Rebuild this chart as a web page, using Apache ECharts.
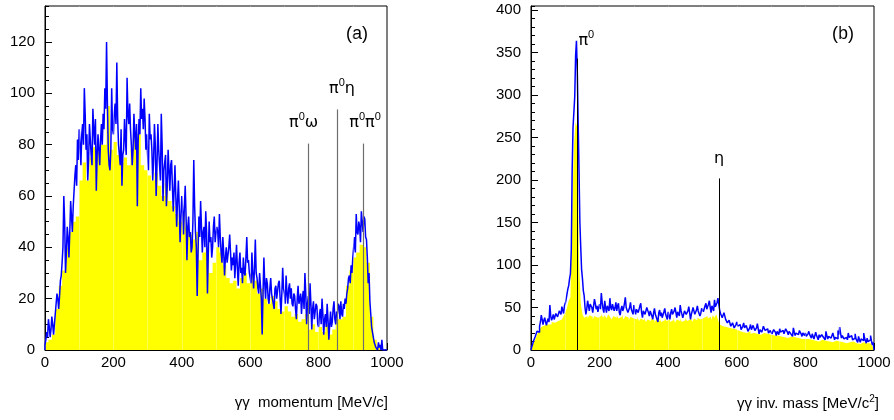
<!DOCTYPE html>
<html>
<head>
<meta charset="utf-8">
<script src="https://cdn.jsdelivr.net/npm/echarts@6/dist/echarts.min.js"></script>
<style>
  html, body { margin: 0; padding: 0; background: #fff; }
  #chart { width: 894px; height: 420px; }
</style>
</head>
<body>
<div id="chart"></div>
<script>
// ---- (a) gamma-gamma momentum, 2.5 MeV/c bins (all candidates) ----
const momBinWidth = 2.5;
const momAll = [
  2, 4, 7, 5, 12, 9, 5, 8, 13, 10, 6, 10, 14, 18, 22, 20, 16, 21, 27, 29,
  34, 40, 60, 50, 30, 38, 48, 44, 36, 46, 58, 52, 46, 56, 62, 68, 72, 64, 82, 74,
  86, 80, 72, 84, 88, 80, 102, 92, 78, 84, 66, 74, 88, 82, 76, 72, 94, 86, 80, 90,
  62, 76, 84, 78, 72, 82, 88, 80, 92, 86, 102, 94, 120, 96, 78, 72, 70, 78, 102, 86,
  84, 92, 96, 88, 112, 90, 80, 76, 72, 86, 64, 76, 78, 90, 82, 76, 106, 92, 88, 96,
  86, 80, 72, 78, 92, 84, 78, 88, 56, 82, 90, 84, 102, 90, 94, 86, 98, 90, 78, 84,
  76, 70, 92, 82, 84, 78, 66, 74, 88, 80, 60, 72, 88, 78, 72, 66, 92, 80, 58, 70,
  70, 76, 56, 64, 78, 70, 62, 72, 74, 64, 54, 62, 72, 60, 48, 58, 66, 56, 42, 52,
  60, 54, 45, 56, 64, 52, 35, 48, 52, 44, 46, 38, 40, 50, 74, 56, 46, 40, 21, 38,
  52, 44, 58, 48, 38, 46, 48, 40, 54, 46, 22, 38, 50, 42, 44, 36, 40, 48, 52, 42,
  42, 48, 46, 40, 53, 44, 38, 34, 44, 38, 29, 36, 40, 34, 34, 40, 45, 38, 31, 36,
  33, 38, 28, 34, 41, 32, 25, 34, 38, 30, 32, 26, 36, 30, 29, 36, 44, 34, 35, 30,
  30, 26, 38, 30, 24, 32, 43, 30, 28, 24, 22, 30, 30, 20, 6, 22, 36, 26, 20, 28,
  26, 20, 18, 24, 28, 22, 22, 18, 16, 24, 25, 20, 20, 26, 27, 20, 14, 22, 32, 24,
  22, 18, 29, 22, 18, 24, 26, 20, 24, 18, 17, 22, 21, 16, 12, 20, 25, 18, 18, 22,
  14, 20, 23, 16, 30, 22, 10, 18, 21, 14, 26, 18, 8, 16, 19, 12, 12, 18, 17, 10,
  9, 14, 16, 10, 20, 14, 6, 12, 14, 9, 18, 12, 4, 10, 15, 9, 11, 16, 19, 12,
  10, 15, 14, 18, 17, 12, 19, 14, 13, 18, 16, 20, 18, 22, 24, 28, 29, 26, 33, 30,
  36, 40, 44, 38, 53, 46, 45, 50, 48, 42, 54, 50, 46, 52, 51, 44, 43, 36, 26, 30,
  19, 14, 9, 7, 5, 3, 2, 1, 1, 0, 3, 1, 2, 0, 4, 0, 0, 0, 0, 0
];
// selected subset, 10 MeV/c bins
const momSelBinWidth = 10;
const momSel = [
  3, 4, 6, 16, 25, 31, 40, 46, 50, 52,
  66, 73, 66, 75, 79, 77, 80, 80, 95, 78,
  81, 76, 73, 75, 72, 78, 83, 84, 72, 70,
  68, 66, 69, 64, 60, 65, 58, 56, 53, 50,
  54, 48, 45, 43, 46, 35, 38, 40, 30, 34,
  40, 38, 33, 28, 26, 27, 24, 28, 30, 26,
  30, 27, 22, 24, 20, 18, 21, 19, 16, 15,
  17, 15, 13, 14, 11, 12, 14, 8, 10, 7,
  9, 7, 10, 6, 8, 12, 12, 13, 25, 31,
  36, 38, 41, 40, 34, 13, 4, 1, 0, 0
];
// expected two-body momenta: label, momentum, line height
const momMarkers = [
  { name: 'π|ω', p: 771, h: 80.4 },
  { name: 'π|η', p: 854, h: 93.7 },
  { name: 'π|π', p: 930, h: 80.4 }
];

// ---- (b) gamma-gamma invariant mass, 2.5 MeV/c^2 bins ----
const massBinWidth = 2.5;
const massAll = [
  1, 4, 7, 11, 12, 16, 18, 22, 24, 21, 28, 33, 41, 36, 30, 35, 38, 33, 29, 34,
  37, 33, 53, 40, 35, 38, 42, 36, 38, 43, 44, 39, 40, 46, 48, 42, 51, 47, 43, 52,
  55, 60, 66, 72, 76, 84, 90, 118, 212, 262, 280, 298, 346, 364, 327, 268, 210, 150, 121, 95,
  84, 70, 64, 50, 42, 48, 58, 52, 46, 54, 56, 50, 44, 52, 60, 55, 48, 52, 45, 50,
  54, 48, 67, 56, 48, 44, 58, 50, 44, 52, 52, 46, 61, 50, 47, 54, 55, 46, 50, 56,
  46, 52, 55, 44, 41, 48, 52, 46, 49, 55, 62, 50, 50, 44, 44, 50, 56, 48, 47, 42,
  53, 46, 42, 48, 50, 44, 45, 52, 55, 44, 38, 46, 48, 42, 43, 50, 51, 44, 40, 46,
  46, 40, 36, 44, 49, 42, 42, 36, 33, 44, 47, 40, 44, 38, 38, 45, 49, 42, 41, 36,
  45, 40, 36, 44, 48, 42, 40, 46, 50, 44, 38, 45, 46, 40, 53, 46, 42, 38, 39, 46,
  47, 42, 40, 46, 51, 44, 36, 42, 44, 50, 49, 42, 41, 47, 52, 46, 45, 40, 43, 49,
  50, 45, 46, 52, 55, 48, 48, 54, 58, 50, 44, 52, 52, 46, 59, 51, 50, 56, 61, 54,
  47, 43, 42, 38, 38, 44, 44, 36, 36, 32, 30, 35, 34, 28, 27, 32, 31, 26, 24, 30,
  33, 28, 26, 30, 29, 24, 22, 28, 32, 26, 24, 29, 28, 22, 20, 26, 30, 24, 25, 29,
  27, 23, 22, 26, 31, 25, 19, 24, 26, 21, 24, 28, 29, 23, 21, 25, 25, 20, 18, 23,
  23, 19, 20, 24, 26, 21, 17, 22, 22, 18, 25, 21, 19, 23, 24, 19, 21, 25, 27, 21,
  18, 22, 23, 19, 20, 16, 26, 21, 17, 20, 22, 18, 19, 23, 24, 19, 16, 20, 21, 17,
  20, 16, 15, 19, 22, 18, 17, 14, 19, 16, 13, 17, 21, 17, 16, 12, 18, 15, 14, 18,
  19, 15, 15, 12, 22, 17, 13, 16, 18, 14, 16, 12, 20, 16, 12, 15, 17, 13, 23, 18,
  27, 20, 14, 17, 18, 13, 11, 15, 16, 12, 20, 15, 13, 17, 17, 12, 10, 14, 19, 13,
  12, 9, 16, 12, 9, 13, 15, 11, 20, 14, 11, 8, 14, 10, 8, 12, 17, 11, 6, 9
];
// selected subset, 5 MeV/c^2 bins
const massSelBinWidth = 5;
const massSel = [
  2, 6, 10, 15, 20, 24, 27, 29, 28, 30,
  31, 30, 33, 32, 31, 34, 33, 36, 38, 40,
  44, 50, 58, 62, 160, 240, 268, 262, 105, 55,
  42, 38, 40, 37, 41, 39, 36, 40, 38, 37,
  40, 43, 38, 41, 37, 42, 39, 36, 40, 38,
  41, 37, 39, 42, 36, 40, 38, 35, 39, 37,
  38, 36, 39, 34, 37, 35, 38, 33, 36, 34,
  37, 35, 32, 36, 34, 37, 33, 35, 38, 34,
  36, 33, 35, 38, 32, 36, 34, 37, 33, 35,
  38, 34, 36, 39, 33, 37, 35, 38, 36, 34,
  38, 36, 40, 37, 39, 35, 41, 38, 42, 36,
  30, 28, 26, 27, 25, 26, 24, 25, 23, 24,
  24, 22, 23, 21, 22, 20, 21, 22, 19, 20,
  21, 19, 20, 18, 19, 20, 18, 19, 17, 18,
  18, 17, 16, 17, 15, 16, 17, 15, 16, 14,
  15, 16, 14, 15, 13, 14, 15, 13, 14, 13,
  12, 13, 11, 12, 13, 11, 12, 10, 11, 12,
  10, 11, 12, 10, 11, 9, 10, 11, 9, 10,
  10, 9, 11, 8, 10, 9, 8, 10, 9, 8,
  9, 7, 8, 9, 7, 8, 6, 8, 7, 5
];
const massMarkers = [
  { name: 'π|', m: 135, h: 343 },
  { name: 'η', m: 548, h: 202 }
];

// axis ranges
const xRange = [0, 1000];
const xStep = 200;
const xGuides = [100, 200, 300, 400, 500, 600, 700, 800, 900];
const momYMax = 134, momYStep = 20, momYMinor = 5;
const massYMax = 405, massYStep = 50, massYMinor = 10;

// histogram contents -> step polyline closed down to the axis at both ends
function histSteps(values, width) {
  const pts = [[0, 0]];
  values.forEach((v, i) => pts.push([i * width, v]));
  const end = values.length * width;
  pts.push([end, values[values.length - 1]]);
  pts.push([end, 0]);
  return pts;
}

const FONT = 'Liberation Sans, Arial, sans-serif';
const GREEK = 'DejaVu Sans, sans-serif';

function xAxisFor(gi) {
  return {
    type: 'value', gridIndex: gi, min: xRange[0], max: xRange[1], interval: xStep,
    axisLine: { show: true, onZero: false, lineStyle: { color: '#000', width: 1 } },
    axisTick: { show: true, inside: true, length: 7, lineStyle: { color: '#000', width: 1 } },
    minorTick: { show: true, splitNumber: 4, length: 3.5, lineStyle: { color: '#000', width: 1 } },
    splitLine: { show: false },
    axisLabel: { color: '#000', fontSize: 15, fontFamily: FONT, margin: 5, formatter: v => String(v) }
  };
}
function yAxisMain(gi, max, step) {
  return {
    type: 'value', gridIndex: gi, min: 0, max: max, interval: step,
    axisLine: { show: true, lineStyle: { color: '#000', width: 1 } },
    axisTick: { show: true, inside: true, length: 7, lineStyle: { color: '#000', width: 1 } },
    splitLine: { show: false },
    axisLabel: { color: '#000', fontSize: 15, fontFamily: FONT, margin: 10, showMaxLabel: false }
  };
}
function yAxisMinor(gi, max, step) {
  return {
    type: 'value', gridIndex: gi, min: 0, max: max, interval: step, position: 'left',
    axisLine: { show: false },
    axisTick: { show: true, inside: true, length: 4, lineStyle: { color: '#000', width: 1 } },
    splitLine: { show: false },
    axisLabel: { show: false }
  };
}

const greekRich = {
  g: { fontSize: 16, fontFamily: GREEK, color: '#000', lineHeight: 19, verticalAlign: 'bottom' },
  s: { fontSize: 11, fontFamily: FONT, color: '#000', lineHeight: 19, verticalAlign: 'top' }
};
function greekLabel(name) {
  // 'π|ω' -> π⁰ω ; 'π|π' -> π⁰π⁰ ; 'π|' -> π⁰ ; 'η' -> η
  const [a, b] = name.split('|');
  if (b === undefined) return '{g|' + a + '}';
  if (b === 'π') return '{g|π}{s|0}{g|π}{s|0}';
  return '{g|' + a + '}{s|0}' + (b ? '{g|' + b + '}' : '');
}

function markerLines(list, key, color, width, labelOpts) {
  return {
    silent: true, symbol: 'none', animation: false,
    lineStyle: { color: color, width: width, type: 'solid' },
    data: list.map((m, i) => [
      { coord: [m[key], 0] },
      {
        coord: [m[key], m.h],
        label: Object.assign({
          show: true, position: 'end', distance: 12,
          formatter: greekLabel(m.name), rich: greekRich
        }, labelOpts[i] || {})
      }
    ])
  };
}

// faint light rules crossing the filled histograms every 100 units
const fillGuides = {
  silent: true, symbol: 'none', animation: false, label: { show: false },
  lineStyle: { color: 'rgba(255,255,255,0.3)', width: 1, type: 'solid' },
  data: xGuides.map(x => ({ xAxis: x }))
};

const chart = echarts.init(document.getElementById('chart'), null, { renderer: 'canvas' });

chart.setOption({
  animation: false,
  backgroundColor: '#fff',
  grid: [
    { left: 45, top: 6, width: 342, height: 344, show: true, borderColor: '#000', borderWidth: 1, backgroundColor: 'transparent' },
    { left: 531, top: 6, width: 343, height: 344, show: true, borderColor: '#000', borderWidth: 1, backgroundColor: 'transparent' }
  ],
  xAxis: [xAxisFor(0), xAxisFor(1)],
  yAxis: [
    yAxisMain(0, momYMax, momYStep),
    yAxisMinor(0, momYMax, momYMinor),
    yAxisMain(1, massYMax, massYStep),
    yAxisMinor(1, massYMax, massYMinor)
  ],
  series: [
    {
      type: 'line', xAxisIndex: 0, yAxisIndex: 0, step: 'end', showSymbol: false, silent: true,
      data: histSteps(momSel, momSelBinWidth),
      lineStyle: { width: 0 }, areaStyle: { color: '#ffff00', opacity: 1 }, z: 2,
      markLine: fillGuides
    },
    {
      type: 'line', xAxisIndex: 0, yAxisIndex: 0, step: 'end', showSymbol: false, silent: true,
      data: histSteps(momAll, momBinWidth),
      lineStyle: { color: '#0000ff', width: 1.5 }, z: 3,
      markLine: markerLines(momMarkers, 'p', '#6e6e6e', 1.2, [
        { padding: [0, 10, 0, 0], distance: 13 },
        { padding: [0, 0, 0, 10], distance: 13 },
        { padding: [0, 0, 0, 4], distance: 13 }
      ])
    },
    {
      type: 'line', xAxisIndex: 1, yAxisIndex: 2, step: 'end', showSymbol: false, silent: true,
      data: histSteps(massSel, massSelBinWidth),
      lineStyle: { width: 0 }, areaStyle: { color: '#ffff00', opacity: 1 }, z: 2,
      markLine: fillGuides
    },
    {
      type: 'line', xAxisIndex: 1, yAxisIndex: 2, step: 'end', showSymbol: false, silent: true,
      data: histSteps(massAll, massBinWidth),
      lineStyle: { color: '#0000ff', width: 1.5 }, z: 3,
      markLine: markerLines(massMarkers, 'm', '#000', 1, [
        { padding: [0, 0, 0, 18], distance: 10 },
        { distance: 12 }
      ])
    }
  ],
  graphic: [
    { type: 'text', left: 346, top: 25, style: { text: '(a)', fontSize: 18, fontFamily: FONT, fill: '#000' } },
    { type: 'text', left: 832, top: 25, style: { text: '(b)', fontSize: 18, fontFamily: FONT, fill: '#000' } },
    {
      type: 'text', right: 894 - 388, top: 395,
      style: { text: 'γγ  momentum [MeV/c]', fontSize: 15, fontFamily: FONT, fill: '#000' }
    },
    {
      type: 'text', right: 894 - 879, top: 394,
      style: {
        text: '{t|γγ inv. mass [MeV/c}{s|2}{t|]}',
        rich: {
          t: { fontSize: 15, fontFamily: FONT, fill: '#000', lineHeight: 17, verticalAlign: 'bottom' },
          s: { fontSize: 10, fontFamily: FONT, fill: '#000', lineHeight: 17, verticalAlign: 'top' }
        }
      }
    }
  ]
});
</script>
</body>
</html>
